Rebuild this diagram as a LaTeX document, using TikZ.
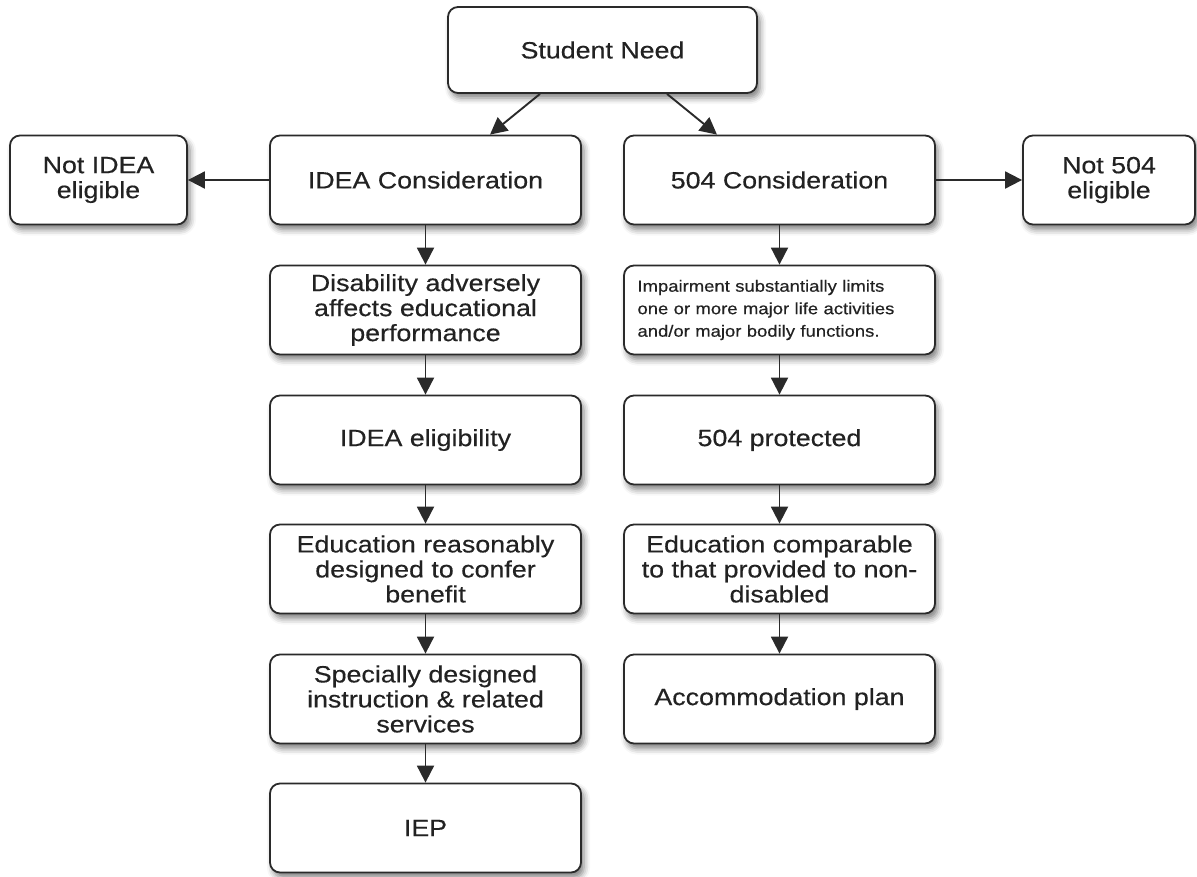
\documentclass[tikz,border=0pt]{standalone}
\usepackage{fontspec}
\newfontfamily\flowfont[FakeStretch=1.14,FakeBold=0.4]{Liberation Sans}
\usetikzlibrary{arrows.meta,shadows.blur}
\newcommand{\bigtxt}{\flowfont\fontsize{23.5}{25}\selectfont}
\newcommand{\smalltxt}{\flowfont\fontsize{16.2}{22.5}\selectfont}
\definecolor{edge}{HTML}{2A2A2A}
\definecolor{txt}{HTML}{222222}
\tikzset{
  flowbox/.style={draw=edge, line width=1.8pt, rounded corners=10pt, fill=white,
    align=center, text=txt, font=\bigtxt, inner sep=2pt,
    minimum width=311pt, minimum height=89pt,
    blur shadow={shadow xshift=3pt, shadow yshift=-5pt, shadow blur radius=6pt, shadow opacity=50}},
  sidebox/.style={flowbox, minimum width=177pt},
  conn/.style={draw=edge, line width=1.9pt, -{Triangle[length=17pt,width=17pt]}}
}
\begin{document}
\begin{tikzpicture}[x=1pt,y=-1pt]
\useasboundingbox (0,0) rectangle (1197,876);
\node[flowbox, minimum width=309pt, minimum height=86pt] (need) at (602.5,50) {Student Need};
\node[flowbox] (idea) at (425.5,180) {IDEA Consideration};
\node[flowbox] (c504) at (779.5,180) {504 Consideration};
\node[sidebox] (notidea) at (98.5,180) {Not IDEA\\eligible};
\node[sidebox, minimum width=172pt] (not504) at (1109,180) {Not 504\\eligible};
\node[flowbox] (dis) at (425.5,310) {Disability adversely\\affects educational\\performance};
\node[flowbox, align=left, text width=284pt, font=\smalltxt] (imp) at (779.5,310) {Impairment substantially limits\\one or more major life activities\\and/or major bodily functions.};
\node[flowbox] (elig) at (425.5,440) {IDEA eligibility};
\node[flowbox] (prot) at (779.5,440) {504 protected};
\node[flowbox] (edr) at (425.5,569) {Education reasonably\\designed to confer\\benefit};
\node[flowbox] (edc) at (779.5,569) {Education comparable\\to that provided to non-\\disabled};
\node[flowbox] (sdi) at (425.5,699) {Specially designed\\instruction \& related\\services};
\node[flowbox] (acc) at (779.5,699) {Accommodation plan};
\node[flowbox] (iep) at (425.5,828) {IEP};
\draw[conn] (need.south -| 540,0) -- (idea.north -| 490,0);
\draw[conn] (need.south -| 667,0) -- (c504.north -| 717,0);
\draw[conn] (idea.west) -- (notidea.east);
\draw[conn] (c504.east) -- (not504.west);
\draw[conn] (idea) -- (dis);
\draw[conn] (dis) -- (elig);
\draw[conn] (elig) -- (edr);
\draw[conn] (edr) -- (sdi);
\draw[conn] (sdi) -- (iep);
\draw[conn] (c504) -- (imp);
\draw[conn] (imp) -- (prot);
\draw[conn] (prot) -- (edc);
\draw[conn] (edc) -- (acc);
\end{tikzpicture}
\end{document}
